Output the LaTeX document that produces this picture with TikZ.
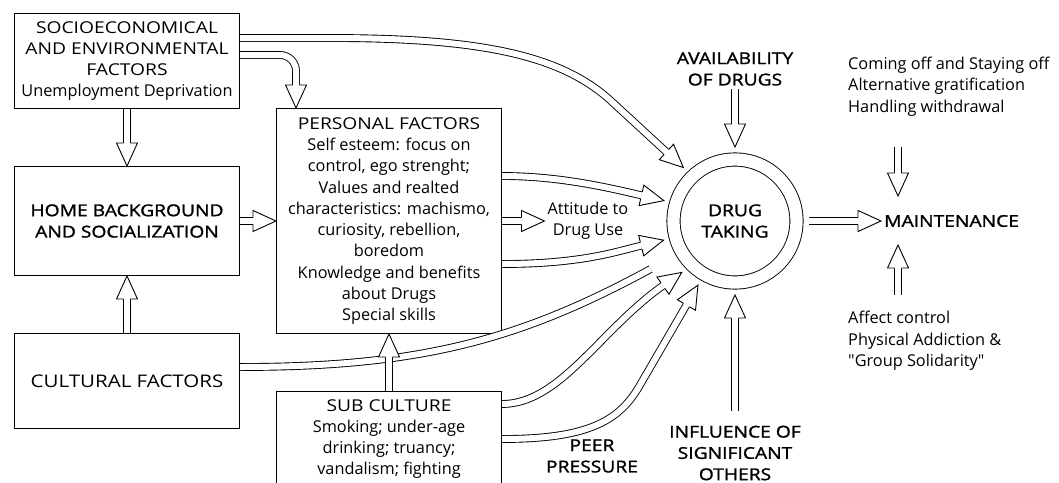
\documentclass[tikz,border=0pt]{standalone}
\usepackage{fontspec}
\setmainfont{Open Sans}
\newfontfamily\capsf[FakeStretch=1.18]{Open Sans}
\newfontfamily\headf[FakeStretch=1.18, FakeBold=1.5]{Open Sans}
\newfontfamily\qf[Ligatures=TeXOff]{Open Sans}
\usetikzlibrary{decorations.markings}
\newcommand\blkhead{%
  \pgfsetinnerlinewidth{0pt}%
  \fill[white, sharp corners, shorten >=0pt, shorten <=0pt] (0pt,0pt) -- (-23pt,10.5pt) -- (-23pt,-10.5pt) -- cycle;
  \draw[line width=0.9pt, sharp corners, line join=miter, shorten >=0pt, shorten <=0pt]
    (-23pt,3.45pt) -- (-23pt,10.5pt) -- (0pt,0pt) -- (-23pt,-10.5pt) -- (-23pt,-3.45pt);
}
\tikzset{
  harrow/.style={draw, line width=0.9pt, double=white, double distance=6pt, shorten >=23pt,
    postaction={decorate, decoration={markings, mark=at position 1 with {\blkhead}}}},
  box/.style={draw, line width=1pt, align=center, minimum width=225pt, inner sep=2pt},
  txt/.style={align=center, inner sep=3pt},
  hd/.style={font=\fontsize{16.3}{21.3}\selectfont\headf},
}
\begin{document}
\begin{tikzpicture}[x=1pt, y=-1pt, every node/.style={font=\fontsize{16.3}{21.3}\selectfont}]
\useasboundingbox (0,0) rectangle (1059,482);
\clip (0,0) rectangle (1059,482);

% boxes
\node[box, minimum height=95pt] (socio) at (127,61)
  {{\capsf SOCIOECONOMICAL}\\{\capsf AND ENVIRONMENTAL}\\{\capsf FACTORS}\\Unemployment Deprivation};
\node[box, hd, minimum height=109pt] (home) at (127,221) {HOME BACKGROUND\\AND SOCIALIZATION};
\node[box, minimum height=95pt, font=\fontsize{17.4}{21}\selectfont\capsf] (cult) at (127,381) {CULTURAL FACTORS};
\node[box, minimum height=225pt] (pers) at (389,221)
  {{\capsf PERSONAL FACTORS}\\Self esteem: focus on\\control, ego strenght;\\Values and realted\\characteristics: machismo,\\curiosity, rebellion,\\boredom\\Knowledge and benefits\\about Drugs\\Special skills};
\node[box, minimum height=96pt] (sub) at (389,439)
  {{\capsf SUB CULTURE}\\Smoking; under-age\\drinking; truancy;\\vandalism; fighting};

% central circle
\node[circle, draw, double, double distance=12.3pt, line width=0.9pt, minimum size=123pt,
  inner sep=0pt, outer sep=12.5pt, hd, align=center] (dt) at (735,221) {DRUG\\TAKING};

% labels
\node[txt, hd] (avail) at (735,69) {AVAILABILITY\\OF DRUGS};
\node[txt, hd] (infl) at (735,453) {INFLUENCE OF\\SIGNIFICANT\\OTHERS};
\node[txt, hd] (peer) at (592,456) {PEER\\PRESSURE};
\node[txt] (att) at (588,221) {Attitude to\\Drug Use};
\node[txt, hd, anchor=west] (maint) at (881,221) {MAINTENANCE};
\node[txt, align=left, anchor=west] (coming) at (845,86.5)
  {Coming off and Staying off\\Alternative gratification\\Handling withdrawal};
\node[txt, align=left, anchor=west] (affect) at (845,341)
  {Affect control\\Physical Addiction \&\\{\qf"}Group Solidarity{\qf"}};

\coordinate (cm1) at (898,147);
\coordinate (cm2) at (898,196);
\coordinate (af1) at (898,295);
\coordinate (af2) at (898,245);

% connectors
\draw[harrow] (socio.south) -- (home.north);
\draw[harrow] (cult.north) -- (home.south);
\draw[harrow] (home.east) -- (pers.west);
\draw[harrow, rounded corners=16pt] ([yshift=6pt]socio.east) -| ([xshift=-93pt]pers.north);
\draw[harrow] ([yshift=23pt]socio.east) -- (330,38) .. controls (480,38) and (560,55) .. (610,100) -- (dt.134);
\draw[harrow] ([yshift=45pt]pers.east) .. controls (560,176) and (610,188) .. (dt.164);
\draw[harrow] (pers.east) -- (att.west);
\draw[harrow] ([yshift=-43pt]pers.east) .. controls (580,264) and (615,252) .. (dt.195);
\draw[harrow] ([yshift=14pt]cult.east) .. controls (420,367) and (520,340) .. (dt.210);
\draw[harrow] (sub.north) -- (pers.south);
\draw[harrow] ([yshift=35pt]sub.east) .. controls (560,404) and (600,330) .. (dt.224);
\draw[harrow] (sub.east) .. controls (590,439) and (620,420) .. (640,385) -- (dt.240);
\draw[harrow] (avail.south) -- (dt.north);
\draw[harrow] ([yshift=12pt]infl.north) -- (dt.south);
\draw[harrow] (dt.east) -- (maint.west);
\draw[harrow] (cm1) -- (cm2);
\draw[harrow] (af1) -- (af2);
\end{tikzpicture}
\end{document}
